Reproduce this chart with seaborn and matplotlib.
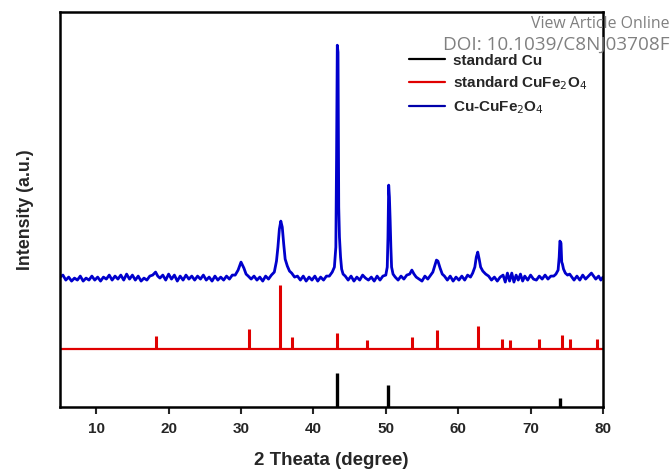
"""
XRD patterns: standard Cu, standard CuFe2O4 and the Cu-CuFe2O4 composite.
"""

import matplotlib
matplotlib.use("Agg")
import matplotlib.pyplot as plt
from matplotlib.lines import Line2D
import pandas as pd
import seaborn as sns

# --- data (intensity in arbitrary units) ---
cu_theta = [43.25, 50.35, 74.1]
cu_height = [34, 22, 9]

ferrite_theta = [18.3, 31.1, 35.4, 37.1, 43.2, 47.35, 53.6, 57.1, 62.8,
                 66.1, 67.1, 71.2, 74.4, 75.4, 79.2]
ferrite_height = [13, 20, 64, 12, 16, 9, 12, 19, 23, 10, 9, 10, 14, 10, 10]

sample_theta = [
    5.0, 5.4, 5.8, 6.2, 6.6, 7.0, 7.4, 7.8, 8.2, 8.6, 9.0, 9.4, 9.8, 10.2,
    10.6, 11.0, 11.4, 11.8, 12.2, 12.6, 13.0, 13.4, 13.8, 14.2, 14.6, 15.0,
    15.4, 15.8, 16.2, 16.6, 17.0, 17.4, 17.8, 18.2, 18.5, 18.8, 19.2, 19.6,
    20.0, 20.4, 20.8, 21.2, 21.6, 22.0, 22.4, 22.8, 23.2, 23.6, 24.0, 24.4,
    24.8, 25.2, 25.6, 26.0, 26.4, 26.8, 27.2, 27.6, 28.0, 28.4, 28.8,
    29.2, 29.6, 30.0, 30.2, 30.4, 30.7, 31.0, 31.4, 31.8, 32.2, 32.6, 33.0,
    33.4, 33.8, 34.2, 34.6, 34.9, 35.1, 35.3, 35.5, 35.7, 35.9, 36.1, 36.4,
    36.7, 37.0, 37.4, 37.8, 38.2, 38.6, 39.0, 39.4, 39.8, 40.2, 40.6, 41.0,
    41.4, 41.8, 42.2, 42.6, 42.9, 43.1, 43.2, 43.3, 43.4, 43.5, 43.6, 43.75,
    43.9, 44.1, 44.4, 44.8, 45.2, 45.6, 46.0, 46.4, 46.8, 47.2, 47.6, 48.0,
    48.4, 48.8, 49.2, 49.6, 50.0, 50.2, 50.3, 50.4, 50.5, 50.6, 50.7, 50.8,
    51.0, 51.3, 51.7, 52.1, 52.5, 52.9, 53.3, 53.6, 53.9, 54.2, 54.6, 55.0,
    55.4, 55.8, 56.2, 56.5, 56.8, 57.0, 57.2, 57.5, 57.8, 58.1, 58.5, 58.9,
    59.3, 59.7, 60.1, 60.5, 60.9, 61.3, 61.7, 62.0, 62.3, 62.5, 62.7, 62.9,
    63.1, 63.4, 63.8, 64.2, 64.6, 65.0, 65.4, 65.8, 66.2, 66.5, 66.8, 67.1,
    67.4, 67.7, 68.0, 68.3, 68.6, 68.9, 69.2, 69.6, 70.0, 70.4, 70.8, 71.2,
    71.6, 72.0, 72.4, 72.8, 73.2, 73.5, 73.8, 73.95, 74.05, 74.2, 74.3, 74.4,
    74.55, 74.8, 75.1, 75.4, 75.7, 76.0, 76.4, 76.8, 77.2, 77.6, 78.0, 78.4,
    78.7, 79.0, 79.4, 79.7, 80.0,
]
sample_counts = [
    130, 132, 127, 130, 126, 129, 127, 131, 126, 129, 127, 131, 127, 130,
    126, 130, 128, 132, 127, 131, 128, 132, 127, 133, 128, 132,
    127, 131, 126, 129, 127, 131, 132, 135, 131, 129, 132, 127,
    133, 128, 132, 126, 131, 127, 132, 128, 131, 127, 131, 128,
    132, 127, 130, 126, 131, 127, 130, 127, 131, 128, 132,
    132, 137, 145, 142, 139, 133, 131, 128, 131, 127, 130, 126,
    131, 128, 132, 135, 146, 160, 178, 186, 180, 163, 148, 141,
    136, 134, 130, 131, 127, 131, 126, 130, 127, 131, 126, 130,
    127, 131, 131, 135, 140, 160, 250, 362, 355, 200, 170, 150,
    138, 133, 131, 127, 131, 126, 130, 127, 132, 129, 127, 130,
    126, 131, 127, 131, 132, 140, 170, 222, 210, 187, 160, 140,
    133, 130, 127, 131, 128, 132, 133, 137, 133, 130, 128, 126,
    131, 128, 132, 135, 142, 147, 146, 139, 133, 131, 127, 131,
    126, 130, 127, 131, 127, 132, 130, 134, 140, 150, 155, 148,
    140, 136, 133, 131, 127, 130, 126, 130, 132, 125, 134, 126,
    134, 125, 132, 127, 133, 126, 131, 127, 132, 128, 127, 131,
    128, 132, 128, 131, 131, 133, 137, 150, 166, 164, 145, 143,
    138, 134, 132, 133, 130, 127, 131, 127, 132, 128, 131, 134,
    131, 128, 131, 127, 130,
]

RED_BASE = 58  # vertical offset of the standard CuFe2O4 stick pattern

sns.set_style("white")
plt.rcParams["font.family"] = ["Liberation Sans Narrow", "Liberation Sans", "DejaVu Sans"]

fig = plt.figure(figsize=(6.72, 4.70), dpi=100)
ax = fig.add_axes([0.0893, 0.134, 0.808, 0.840])

sample = pd.DataFrame({"theta": sample_theta, "counts": sample_counts})
sns.lineplot(data=sample, x="theta", y="counts", ax=ax, color="#0000cc",
             linewidth=2.0, estimator=None, sort=False)

ax.axhline(RED_BASE, color="#e00000", linewidth=1.6)
ax.vlines(ferrite_theta, RED_BASE, [RED_BASE + h for h in ferrite_height],
          color="#e00000", linewidth=2.2)
ax.vlines(cu_theta, 0, cu_height, color="black", linewidth=2.4)

ax.set_xlim(5, 80)
ax.set_ylim(0, 395)
ax.set_xticks(range(10, 81, 10))
ax.set_yticks([])
ax.tick_params(axis="x", direction="out", length=5, width=1.5, bottom=True,
               labelsize=11, pad=6)
for lbl in ax.get_xticklabels():
    lbl.set_fontweight("bold")
for sp in ax.spines.values():
    sp.set_linewidth(1.8)
    sp.set_color("black")

ax.set_xlabel("2 Theata (degree)", fontsize=13.5, fontweight="bold", labelpad=11)
ax.set_ylabel("Intensity (a.u.)", fontsize=12.8, fontweight="bold", labelpad=19,
              family=["Liberation Sans", "DejaVu Sans"])

handles = [
    Line2D([], [], color="black", linewidth=1.6),
    Line2D([], [], color="#e00000", linewidth=1.6),
    Line2D([], [], color="#0000aa", linewidth=1.6),
]
labels = ["standard Cu", r"standard CuFe$_2$O$_4$", r"Cu-CuFe$_2$O$_4$"]
ax.legend(handles, labels, loc="upper left", bbox_to_anchor=(0.617, 0.93),
          frameon=False, handlelength=2.4, handletextpad=0.5, labelspacing=0.45,
          prop={"weight": "bold", "size": 11, "family": ["Liberation Sans", "DejaVu Sans"]})

fig.text(0.997, 0.949, "View Article Online", ha="right", va="center",
         color="#808080", fontsize=11.4, family=["Open Sans", "DejaVu Sans"])
fig.text(0.997, 0.904, "DOI: 10.1039/C8NJ03708F", ha="right", va="center",
         color="#808080", fontsize=13.6, family=["Open Sans", "DejaVu Sans"])

fig.savefig("out.png", dpi=100)
